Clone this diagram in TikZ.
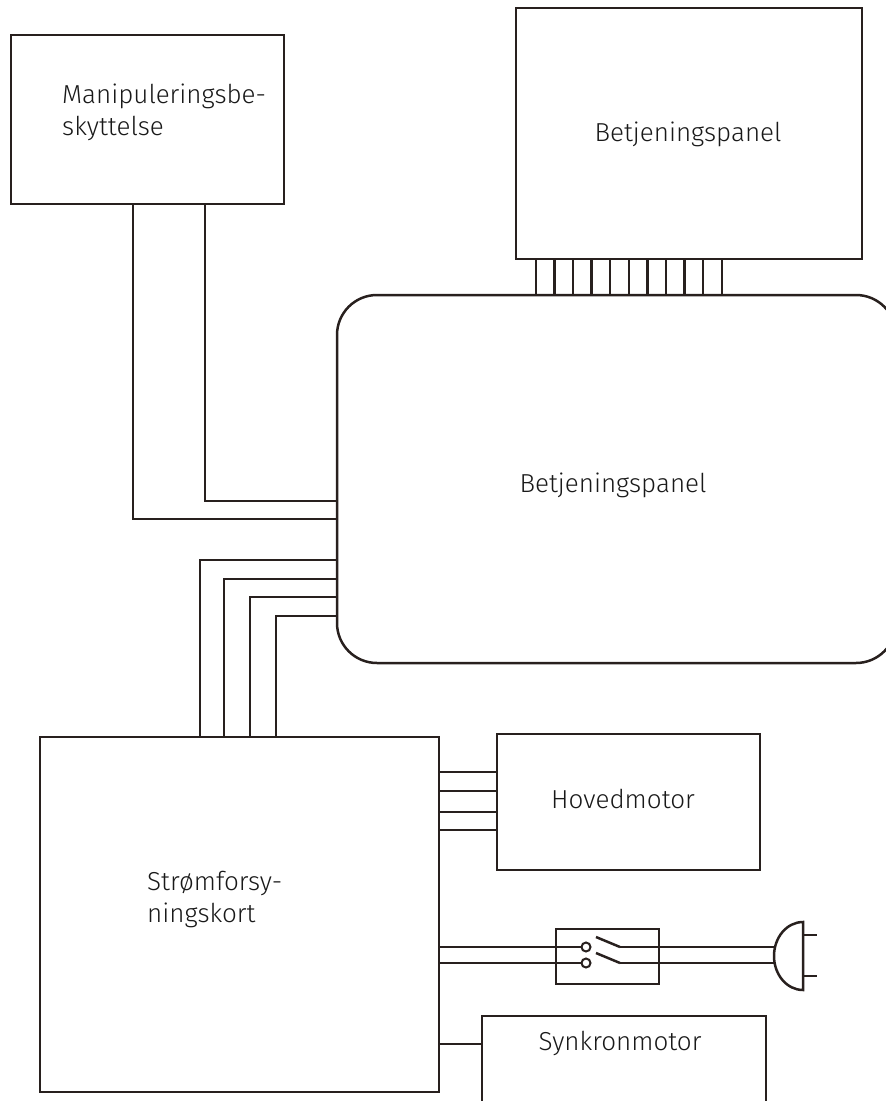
\documentclass[tikz,border=0pt]{standalone}
\usepackage{fontspec}
\setmainfont{Fira Sans}[UprightFont={* Light}]
\usepackage{xcolor}
\usepackage{tikz}
\usetikzlibrary{shapes,positioning}

\definecolor{ink}{RGB}{40,32,30}

\begin{document}
\begin{tikzpicture}[x=1pt,y=-1pt,
  box/.style={draw=ink,line width=2.5pt,inner sep=0pt},
  wire/.style={draw=ink,line width=2.5pt},
  lbl/.style={inner sep=0pt,align=left,text=black!90,font=\fontsize{26}{32}\selectfont}]
\clip (0,0) rectangle (886,1101);

% Boxes
\node[box,minimum width=273pt,minimum height=169pt] (manip) at (147.5,119.5) {};
\node[box,minimum width=346pt,minimum height=251pt] (panel) at (689,133.5) {};
\node[box,rounded corners=40pt,minimum width=559pt,minimum height=368pt] (ctrl) at (616.5,479) {};
\node[box,minimum width=399pt,minimum height=355pt] (power) at (239.5,914.5) {};
\node[box,minimum width=263pt,minimum height=136pt] (motor) at (628.5,802) {};
\node[box,minimum width=103pt,minimum height=55pt] (switch) at (607.5,956.5) {};
\node[box,minimum width=284pt,minimum height=104pt] (sync) at (624,1068) {};

% Labels
\node[lbl,anchor=north west] (manipText) at (62,84) {Manipuleringsbe-\\skyttelse};
\node[lbl,anchor=base] (panelText) at (688,141) {Betjeningspanel};
\node[lbl,anchor=base] (ctrlText) at (613,492) {Betjeningspanel};
\node[lbl,anchor=base] (motorText) at (623,808) {Hovedmotor};
\node[lbl,anchor=north west] (powerText) at (147,871) {Strømforsy-\\ningskort};
\node[lbl,anchor=base] (syncText) at (620,1050) {Synkronmotor};

% Manipulation guard to control
\draw[wire] ([xshift=123pt]manip.south west) |- ([yshift=-40pt]ctrl.west);
\draw[wire] ([xshift=195pt]manip.south west) |- ([yshift=-22pt]ctrl.west);

% Panel bus (11 lines)
\coordinate (busTop) at (panel.south west);
\coordinate (busBot) at (panel.south west |- ctrl.north);
\foreach \i in {0,...,10}
  \draw[wire] ([xshift=21pt+\i*18.6pt]busTop) -- ([xshift=21pt+\i*18.6pt]busBot);

% Power supply to control
\foreach \dx/\dy in {161/81,185/100,211/118,237/137}
  \draw[wire] ([xshift=\dx pt]power.north west) |- ([yshift=-\dy pt]ctrl.west);

% Power supply to main motor
\foreach \dy in {39,58,79,97}{
  \coordinate (mw) at ([yshift=-\dy pt]motor.north west);
  \draw[wire] (power.east |- mw) -- (mw);
}

% Mains switch
\node[circle,draw=ink,line width=2pt,minimum size=9pt,inner sep=0pt] (c1) at (586,947) {};
\node[circle,draw=ink,line width=2pt,minimum size=9pt,inner sep=0pt] (c2) at (586,963) {};
\draw[wire] (power.east |- c1) -- (c1);
\draw[wire] (power.east |- c2) -- (c2);
\coordinate (b1) at (620,947);
\coordinate (b2) at (620,963);
\draw[wire] (596,937) -- (b1);
\draw[wire] (596,953) -- (b2);

% Plug
\coordinate (plug) at (803,956);
\coordinate (p1) at (775,947);
\coordinate (p2) at (775,963);
\draw[wire] (b1) -- (p1);
\draw[wire] (b2) -- (p2);
\draw[wire] (803,922) arc[start angle=90,end angle=270,x radius=29,y radius=-34] -- cycle;
\draw[wire] (803,935) -- (817,935);
\draw[wire] (803,976) -- (817,976);

% Power supply to synchronous motor
\coordinate (sw) at ([yshift=-29pt]sync.north west);
\draw[wire] (power.east |- sw) -- (sw);
\end{tikzpicture}
\end{document}
